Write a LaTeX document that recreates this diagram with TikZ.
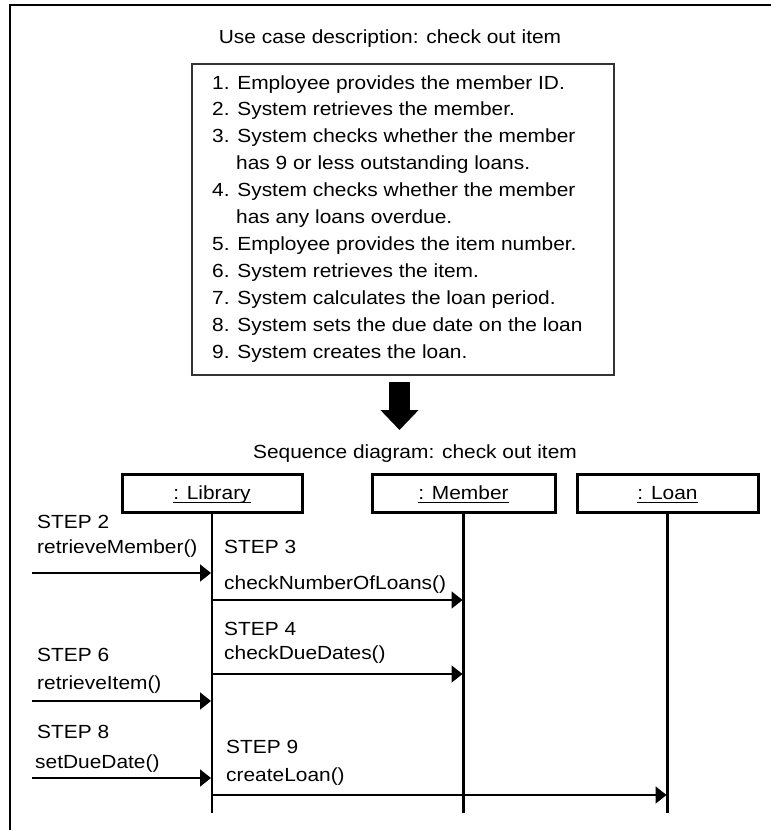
\documentclass[tikz,border=0pt]{standalone}
\usepackage{fontspec}
\setmainfont{Liberation Sans}
\usetikzlibrary{arrows.meta}
\newcommand\sx[1]{\scalebox{1.10}[1]{#1}}
\newcommand\ulab[1]{\setbox0\hbox{#1}\leavevmode\rlap{\rule[-3pt]{\wd0}{1pt}}\box0}
\begin{document}
\begin{tikzpicture}[x=1pt,y=-1pt,
  lbl/.style={font=\fontsize{19}{22}\selectfont, inner sep=0pt, anchor=base west},
  ttl/.style={font=\fontsize{19}{22}\selectfont, inner sep=0pt, anchor=base},
  ucbox/.style={draw=black!80, line width=1.6pt, minimum width=422pt, minimum height=311pt, inner sep=0pt},
  objbox/.style={draw, line width=3pt, minimum height=38pt, inner sep=0pt,
    font=\fontsize{19}{22}\selectfont, text height=15.5pt, text depth=2pt},
  lifeline/.style={line width=2.5pt},
  msg/.style={line width=1.8pt, -{Triangle[length=11pt,width=17pt]}, shorten >=1pt},
  bigarrow/.style={line width=21pt, -{Triangle[length=20pt,width=37pt]}},
]
\useasboundingbox (0,0) rectangle (771,830);
% frame (top and left edges)
\draw[line width=2pt] (9.5,830) -- (9.5,4.7) -- (771,4.7);

% use case description
\node[ttl] (uctitle) at (390,43.5) {\sx{Use case description: check out item}};
\node[ucbox] (uc) at (403,219.5) {};
\node[lbl] (l0) at (212,89.0) {\sx{1. Employee provides the member ID.}};
\node[lbl] (l1) at (212,115.9) {\sx{2. System retrieves the member.}};
\node[lbl] (l2) at (212,142.8) {\sx{3. System checks whether the member}};
\node[lbl] (l3) at (236,169.7) {\sx{has 9 or less outstanding loans.}};
\node[lbl] (l4) at (212,196.6) {\sx{4. System checks whether the member}};
\node[lbl] (l5) at (236,223.5) {\sx{has any loans overdue.}};
\node[lbl] (l6) at (212,250.4) {\sx{5. Employee provides the item number.}};
\node[lbl] (l7) at (212,277.3) {\sx{6. System retrieves the item.}};
\node[lbl] (l8) at (212,304.2) {\sx{7. System calculates the loan period.}};
\node[lbl] (l9) at (212,331.1) {\sx{8. System sets the due date on the loan}};
\node[lbl] (l10) at (212,358.0) {\sx{9. System creates the loan.}};

% big arrow
\coordinate (arrS) at (399.5,382);
\coordinate (arrE) at (399.5,430);
\draw[bigarrow] (arrS) -- (arrE);

% sequence diagram
\node[ttl] (sqtitle) at (415,458.5) {\sx{Sequence diagram: check out item}};
\node[objbox, minimum width=180pt] (lib) at (212,493) {\sx{\ulab{: Library}}};
\node[objbox, minimum width=183pt] (mem) at (463.5,493) {\sx{\ulab{: Member}}};
\node[objbox, minimum width=181pt] (loan) at (667.5,493) {\sx{\ulab{: Loan}}};

\coordinate (libEnd) at (212,813);
\coordinate (memEnd) at (463.5,813);
\coordinate (loanEnd) at (667.5,813);
\draw[lifeline] (lib.south) -- (libEnd);
\draw[lifeline] (mem.south) -- (memEnd);
\draw[lifeline] (loan.south) -- (loanEnd);

% message labels
\node[lbl] (t2) at (37,528.5) {\sx{STEP 2}};
\node[lbl] (t2m) at (37,553.5) {\sx{retrieveMember()}};
\node[lbl] (t3) at (224,553.5) {\sx{STEP 3}};
\node[lbl] (t3m) at (224,589.5) {\sx{checkNumberOfLoans()}};
\node[lbl] (t4) at (224,635) {\sx{STEP 4}};
\node[lbl] (t4m) at (224,659.5) {\sx{checkDueDates()}};
\node[lbl] (t6) at (37,661.5) {\sx{STEP 6}};
\node[lbl] (t6m) at (37,689.5) {\sx{retrieveItem()}};
\node[lbl] (t8) at (37,738.5) {\sx{STEP 8}};
\node[lbl] (t8m) at (35,768.5) {\sx{setDueDate()}};
\node[lbl] (t9) at (226,753.5) {\sx{STEP 9}};
\node[lbl] (t9m) at (226,781.5) {\sx{createLoan()}};

% messages
\coordinate (m1) at (32,573);
\coordinate (m2) at (212,600);
\coordinate (m3) at (212,674);
\coordinate (m4) at (32,701);
\coordinate (m5) at (32,778);
\coordinate (m6) at (212,795);
\draw[msg] (m1) -- (m1 -| lib);
\draw[msg] (m2) -- (m2 -| mem);
\draw[msg] (m3) -- (m3 -| mem);
\draw[msg] (m4) -- (m4 -| lib);
\draw[msg] (m5) -- (m5 -| lib);
\draw[msg] (m6) -- (m6 -| loan);
\end{tikzpicture}
\end{document}
